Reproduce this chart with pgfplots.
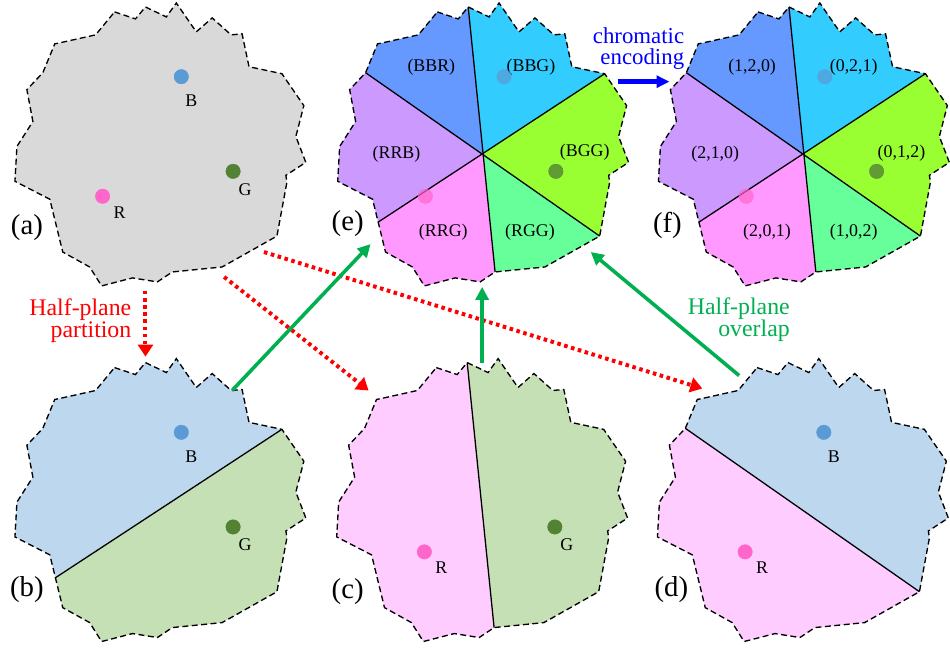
\documentclass[border=0pt]{standalone}
\usepackage{fontspec}
\setmainfont{Liberation Serif}
\usepackage{pgfplots}
\pgfplotsset{compat=1.18}
\usepackage{pgfplotstable}
\usetikzlibrary{arrows.meta}

\definecolor{cGray}{HTML}{D9D9D9}
\definecolor{cLB}{HTML}{BDD7EE}
\definecolor{cLG}{HTML}{C5E0B4}
\definecolor{cLP}{HTML}{FFCCFF}
\definecolor{cBBR}{HTML}{6699FF}
\definecolor{cBBG}{HTML}{33CCFF}
\definecolor{cBGG}{HTML}{99FF33}
\definecolor{cRGG}{HTML}{66FF99}
\definecolor{cRRG}{HTML}{FF99FF}
\definecolor{cRRB}{HTML}{CC99FF}
\definecolor{dB}{HTML}{5B9BD5}
\definecolor{dG}{HTML}{548235}
\definecolor{dR}{HTML}{FF66CC}
\definecolor{aRed}{HTML}{FF0000}
\definecolor{aGreen}{HTML}{00B050}
\definecolor{aBlue}{HTML}{0000FF}

% outline of the region (panel (a) coordinates, pixels, y downwards)
\pgfplotstableread{
x y
115 12
136 19
146 7
167 17
177 3
197 32
213 18
232 35
243 34
250 67
283 74
305 106
297 137
307 163
287 176
288 183
278 237
223 268
173 273
158 283
133 279
102 287
90 268
63 253
50 200
15 182
17 147
33 122
27 90
43 73
55 44
60 43
96 35
115 12
}\outline

\pgfplotstableread{
x y
160.5 154.5
146 7
167 17
177 3
197 32
213 18
232 35
243 34
250 67
283 74
}\sBBG
\pgfplotstableread{
x y
160.5 154.5
283 74
305 106
297 137
307 163
287 176
288 183
278 237
}\sBGG
\pgfplotstableread{
x y
160.5 154.5
278 237
223 268
173 273
}\sRGG
\pgfplotstableread{
x y
160.5 154.5
173 273
158 283
133 279
102 287
90 268
63 253
55.6 223
}\sRRG
\pgfplotstableread{
x y
160.5 154.5
55.6 223
50 200
15 182
17 147
33 122
27 90
43 73
}\sRRB
\pgfplotstableread{
x y
160.5 154.5
43 73
55 44
60 43
96 35
115 12
136 19
146 7
}\sBBR

\pgfplotstableread{
x y
55.6 223
50 200
15 182
17 147
33 122
27 90
43 73
55 44
60 43
96 35
115 12
136 19
146 7
167 17
177 3
197 32
213 18
232 35
243 34
250 67
283 74
}\bUp
\pgfplotstableread{
x y
283 74
305 106
297 137
307 163
287 176
288 183
278 237
223 268
173 273
158 283
133 279
102 287
90 268
63 253
55.6 223
}\bLow
\pgfplotstableread{
x y
173 273
158 283
133 279
102 287
90 268
63 253
50 200
15 182
17 147
33 122
27 90
43 73
55 44
60 43
96 35
115 12
136 19
146 7
}\cLeft
\pgfplotstableread{
x y
146 7
167 17
177 3
197 32
213 18
232 35
243 34
250 67
283 74
305 106
297 137
307 163
287 176
288 183
278 237
223 268
173 273
}\cRight
\pgfplotstableread{
x y
43 73
55 44
60 43
96 35
115 12
136 19
146 7
167 17
177 3
197 32
213 18
232 35
243 34
250 67
283 74
305 106
297 137
307 163
287 176
288 183
278 237
}\dUp
\pgfplotstableread{
x y
278 237
223 268
173 273
158 283
133 279
102 287
90 268
63 253
50 200
15 182
17 147
33 122
27 90
43 73
}\dLow

\newcommand{\shp}[4]{\addplot[#1] table[x expr=\thisrow{x}+#2, y expr=\thisrow{y}+#3]{#4};}

\tikzset{
  myoutl/.style={black, line width=1.35pt, dash pattern=on 6pt off 3.5pt},
  mysep/.style={black, line width=1.3pt},
  mylab/.style={font=\fontsize{18}{18}\selectfont, text=black, inner sep=0pt},
  mypan/.style={font=\fontsize{29}{29}\selectfont, text=black, inner sep=0pt},
  mycap/.style={font=\fontsize{24}{19}\selectfont, inner sep=0pt, align=right, anchor=east},
}

\begin{document}
\begin{tikzpicture}
\begin{axis}[
  hide axis, scale only axis,
  width=953bp, height=652bp,
  xmin=0, xmax=953, ymin=0, ymax=652,
  y dir=reverse, clip=false,
]
\addplot[draw=none] coordinates {(0,0) (953,652)};

% ---------- (a)
\shp{fill=cGray, draw=none}{0}{0}{\outline}
\shp{myoutl}{0}{0}{\outline}

% ---------- (b)
\shp{fill=cLB, draw=none}{0}{357}{\bUp}
\shp{fill=cLG, draw=none}{0}{357}{\bLow}
\addplot[mysep] coordinates {(55.6,580) (283,431)};
\shp{myoutl}{0}{357}{\outline}

% ---------- (c)
\shp{fill=cLP, draw=none}{323}{357}{\cLeft}
\shp{fill=cLG, draw=none}{323}{357}{\cRight}
\addplot[mysep] coordinates {(469,364) (496,630)};
\shp{myoutl}{323}{357}{\outline}

% ---------- (d)
\shp{fill=cLB, draw=none}{645}{357}{\dUp}
\shp{fill=cLP, draw=none}{645}{357}{\dLow}
\addplot[mysep] coordinates {(688,430) (923,594)};
\shp{myoutl}{645}{357}{\outline}

% ---------- (e)
\shp{fill=cBBG, draw=none}{324}{0}{\sBBG}
\shp{fill=cBGG, draw=none}{324}{0}{\sBGG}
\shp{fill=cRGG, draw=none}{324}{0}{\sRGG}
\shp{fill=cRRG, draw=none}{324}{0}{\sRRG}
\shp{fill=cRRB, draw=none}{324}{0}{\sRRB}
\shp{fill=cBBR, draw=none}{324}{0}{\sBBR}
\addplot[mysep] coordinates {(379.6,223) (607,74)};
\addplot[mysep] coordinates {(470,7) (497,273)};
\addplot[mysep] coordinates {(367,73) (602,237)};
\shp{myoutl}{324}{0}{\outline}

% ---------- (f)
\shp{fill=cBBG, draw=none}{646}{0}{\sBBG}
\shp{fill=cBGG, draw=none}{646}{0}{\sBGG}
\shp{fill=cRGG, draw=none}{646}{0}{\sRGG}
\shp{fill=cRRG, draw=none}{646}{0}{\sRRG}
\shp{fill=cRRB, draw=none}{646}{0}{\sRRB}
\shp{fill=cBBR, draw=none}{646}{0}{\sBBR}
\addplot[mysep] coordinates {(701.6,223) (929,74)};
\addplot[mysep] coordinates {(792,7) (819,273)};
\addplot[mysep] coordinates {(689,73) (924,237)};
\shp{myoutl}{646}{0}{\outline}

% ---------- dots
\addplot[dB, only marks, mark=*, mark size=7.3pt, mark options={draw=dB, fill=dB}]
  coordinates {(182,77) (182,434) (827,434)};
\addplot[dG, only marks, mark=*, mark size=7.3pt, mark options={draw=dG, fill=dG}]
  coordinates {(234,172) (234,529) (557,529)};
\addplot[dR, only marks, mark=*, mark size=7.3pt, mark options={draw=dR, fill=dR}]
  coordinates {(103,197) (426,554) (748,554)};
\addplot[dB, only marks, mark=*, mark size=7.3pt, mark options={draw=dB, fill=dB, opacity=0.7}]
  coordinates {(506,77) (828,77)};
\addplot[dG, only marks, mark=*, mark size=7.3pt, mark options={draw=dG, fill=dG, opacity=0.8}]
  coordinates {(558,172) (880,172)};
\addplot[dR, only marks, mark=*, mark size=7.3pt, mark options={draw=dR, fill=dR, opacity=0.7}]
  coordinates {(427,197) (749,197)};

% ---------- arrows
\addplot[aRed, line width=4pt, dash pattern=on 3.6pt off 3.6pt,
  -{Triangle[width=15pt,length=12pt]}] coordinates {(146,292) (146,358)};
\addplot[aRed, line width=4pt, dash pattern=on 3.6pt off 3.6pt,
  -{Triangle[width=15pt,length=12pt]}] coordinates {(225,278) (370,392)};
\addplot[aRed, line width=4pt, dash pattern=on 3.6pt off 3.6pt,
  -{Triangle[width=15pt,length=12pt]}] coordinates {(265,253) (705,390)};
\addplot[aGreen, line width=3.6pt, -{Triangle[width=13pt,length=13pt]}]
  coordinates {(233,392) (372,245)};
\addplot[aGreen, line width=3.6pt, -{Triangle[width=13pt,length=13pt]}]
  coordinates {(484,364) (484,288)};
\addplot[aGreen, line width=3.6pt, -{Triangle[width=13pt,length=13pt]}]
  coordinates {(742,377) (593,253)};
\addplot[aBlue, line width=4.5pt, -{Triangle[width=12pt,length=13pt]}]
  coordinates {(620,82) (672,82)};

% ---------- texts
\node[mylab] at (axis cs:192,101) {B};
\node[mylab] at (axis cs:246,190) {G};
\node[mylab] at (axis cs:120,213) {R};
\node[mylab] at (axis cs:192,458) {B};
\node[mylab] at (axis cs:246,547) {G};
\node[mylab] at (axis cs:443,570) {R};
\node[mylab] at (axis cs:569,547) {G};
\node[mylab] at (axis cs:837,458) {B};
\node[mylab] at (axis cs:765,570) {R};

\node[mylab] at (axis cs:433,67) {(BBR)};
\node[mylab] at (axis cs:533,67) {(BBG)};
\node[mylab] at (axis cs:398,155) {(RRB)};
\node[mylab] at (axis cs:587,153) {(BGG)};
\node[mylab] at (axis cs:445,233) {(RRG)};
\node[mylab] at (axis cs:532,233) {(RGG)};

\node[mylab] at (axis cs:755,67) {(1,2,0)};
\node[mylab] at (axis cs:857,67) {(0,2,1)};
\node[mylab] at (axis cs:718,155) {(2,1,0)};
\node[mylab] at (axis cs:905,154) {(0,1,2)};
\node[mylab] at (axis cs:770,233) {(2,0,1)};
\node[mylab] at (axis cs:857,233) {(1,0,2)};

\node[mypan] at (axis cs:27,228) {(a)};
\node[mypan] at (axis cs:27,592) {(b)};
\node[mypan] at (axis cs:349,594) {(c)};
\node[mypan] at (axis cs:674,592) {(d)};
\node[mypan] at (axis cs:349,224) {(e)};
\node[mypan] at (axis cs:670,226) {(f)};

\node[mycap, text=aRed] at (axis cs:132,322) {Half-plane\\partition};
\node[mycap, text=aGreen] at (axis cs:793,321) {Half-plane\\overlap};
\node[mycap, text=aBlue, font=\fontsize{23}{21}\selectfont] at (axis cs:687,49) {chromatic\\encoding};
\end{axis}
\end{tikzpicture}
\end{document}
